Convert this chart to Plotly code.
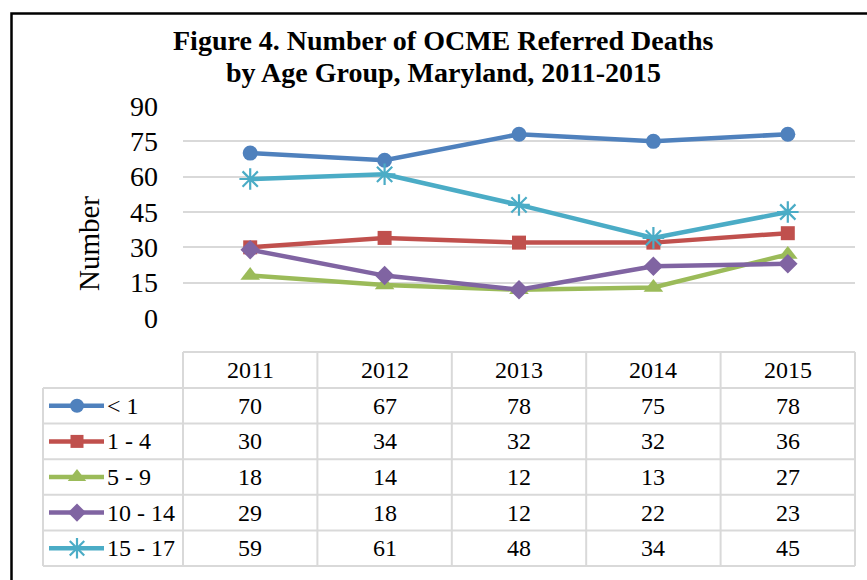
import plotly.graph_objects as go

years = ["2011", "2012", "2013", "2014", "2015"]
groups = ["< 1", "1 - 4", "5 - 9", "10 - 14", "15 - 17"]
v_lt1 = [70, 67, 78, 75, 78]
v_1_4 = [30, 34, 32, 32, 36]
v_5_9 = [18, 14, 12, 13, 27]
v_10_14 = [29, 18, 12, 22, 23]
v_15_17 = [59, 61, 48, 34, 45]
y_ticks = [0, 15, 30, 45, 60, 75, 90]

series = [v_lt1, v_1_4, v_5_9, v_10_14, v_15_17]
colors = ["#4F81BD", "#C0504D", "#9BBB59", "#8064A2", "#4BACC6"]
symbols = ["circle", "square", "triangle-up", "diamond", "asterisk-open"]
msizes = [15, 14, 17, 15, 18]

W, H = 867, 580
FONT = "Liberation Serif, Times New Roman, serif"
GRID = "#D9D9D9"

# plot area pixel geometry
PL, PR, PT, PB = 183, 855, 106, 318

fig = go.Figure()


def marker_style(c, s, ms):
    mk = dict(symbol=s, size=ms, color=c)
    if s == "asterisk-open":
        mk["line"] = dict(color=c, width=2.2)
    return mk


for name, vals, c, s, ms in zip(groups, series, colors, symbols, msizes):
    fig.add_trace(go.Scatter(
        x=years, y=vals, mode="lines+markers", name=name,
        line=dict(color=c, width=4.5), marker=marker_style(c, s, ms), showlegend=False,
        xaxis="x", yaxis="y"))

# table geometry (pixel space on x2/y2)
col_w = (PR - PL) / len(years)
col_centers = [PL + col_w * (i + 0.5) for i in range(len(years))]
HDR_T, HDR_B = 352, 388
row_h = 35.6
row_tops = [HDR_B + row_h * i for i in range(len(groups) + 1)]
LEG_L = 43

shapes = []
shapes.append(dict(type="rect", xref="x2", yref="y2", x0=11.5, x1=900, y0=13.5, y1=620,
                   line=dict(color="black", width=2.5), layer="above"))
shapes.append(dict(type="line", xref="x2", yref="y2", x0=PL, x1=PR, y0=HDR_T, y1=HDR_T,
                   line=dict(color=GRID, width=2)))
for yt in row_tops:
    shapes.append(dict(type="line", xref="x2", yref="y2", x0=LEG_L, x1=PR, y0=yt, y1=yt,
                       line=dict(color=GRID, width=2)))
for i in range(len(years) + 1):
    xv = PL + col_w * i
    shapes.append(dict(type="line", xref="x2", yref="y2", x0=xv, x1=xv, y0=HDR_T, y1=row_tops[-1],
                       line=dict(color=GRID, width=2)))
shapes.append(dict(type="line", xref="x2", yref="y2", x0=LEG_L, x1=LEG_L, y0=HDR_B, y1=row_tops[-1],
                   line=dict(color=GRID, width=2)))

TF = dict(family=FONT, size=24, color="black")
annotations = []
for yr, xc in zip(years, col_centers):
    annotations.append(dict(xref="x2", yref="y2", x=xc, y=(HDR_T + HDR_B) / 2, text=yr,
                            showarrow=False, font=TF))
for r, (name, vals, c, s, ms) in enumerate(zip(groups, series, colors, symbols, msizes)):
    yc = row_tops[r] + row_h / 2
    for v, xc in zip(vals, col_centers):
        annotations.append(dict(xref="x2", yref="y2", x=xc, y=yc, text=str(v),
                                showarrow=False, font=TF))
    annotations.append(dict(xref="x2", yref="y2", x=105, y=yc, text=name, xanchor="left",
                            showarrow=False, font=TF))
    fig.add_trace(go.Scatter(x=[49, 104], y=[yc, yc], mode="lines", line=dict(color=c, width=4.5),
                             xaxis="x2", yaxis="y2", showlegend=False, hoverinfo="skip"))
    fig.add_trace(go.Scatter(x=[77], y=[yc], mode="markers", marker=marker_style(c, s, ms - 1),
                             xaxis="x2", yaxis="y2", showlegend=False, hoverinfo="skip"))

annotations.append(dict(xref="x2", yref="y2", x=443, y=40,
                        text="<b>Figure 4. Number of OCME Referred Deaths</b>",
                        showarrow=False, font=dict(family=FONT, size=28, color="black")))
annotations.append(dict(xref="x2", yref="y2", x=443, y=72,
                        text="<b>by Age Group, Maryland, 2011-2015</b>",
                        showarrow=False, font=dict(family=FONT, size=28, color="black")))
annotations.append(dict(xref="x2", yref="y2", x=89, y=244, text="Number", textangle=-90,
                        showarrow=False, font=dict(family=FONT, size=29, color="black")))

fig.update_layout(
    template="none",
    width=W, height=H,
    margin=dict(l=0, r=0, t=0, b=0, pad=0, autoexpand=False),
    paper_bgcolor="white", plot_bgcolor="rgba(0,0,0,0)",
    xaxis=dict(domain=[PL / W, PR / W], type="category", range=[-0.5, 4.5], automargin=False,
               showticklabels=False, showgrid=False, zeroline=False, showline=False, ticks=""),
    yaxis=dict(domain=[1 - PB / H, 1 - PT / H], range=[0, 90], tickvals=y_ticks, automargin=False,
               showgrid=True, gridcolor=GRID, gridwidth=1.8, zeroline=False, showline=False, ticks="",
               tickfont=dict(family=FONT, size=28, color="black"), ticklabelstandoff=24),
    xaxis2=dict(domain=[0, 1], range=[0, W], visible=False, fixedrange=True, anchor="y2",
                automargin=False),
    yaxis2=dict(domain=[0, 1], range=[H, 0], visible=False, fixedrange=True, anchor="x2",
                automargin=False),
    shapes=shapes,
    annotations=annotations,
)

fig.write_html("out.html", config={"displayModeBar": False},
               post_script="document.body.style.margin='0px';document.body.style.overflow='hidden';")
